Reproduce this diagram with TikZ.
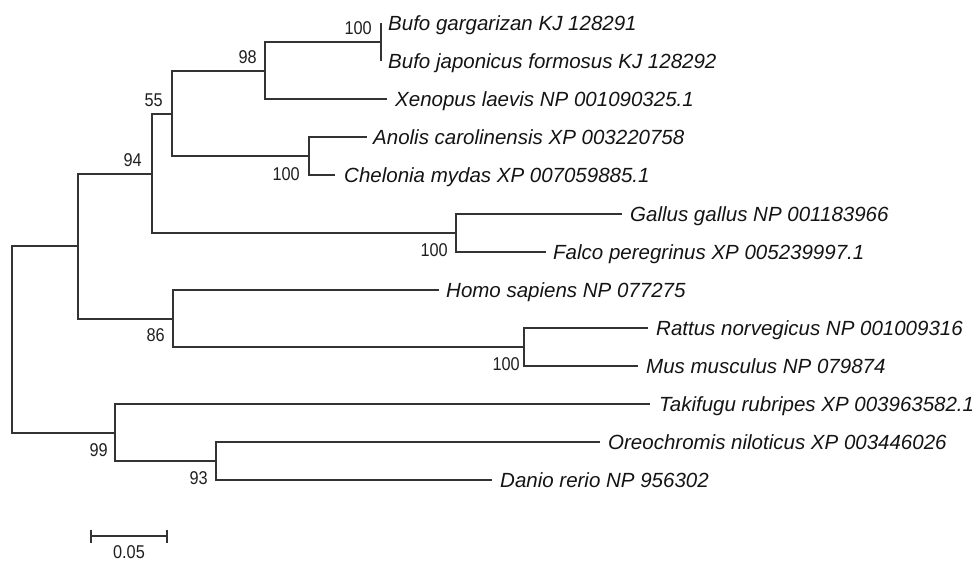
\documentclass[tikz,border=0pt]{standalone}
\usepackage{fontspec}
\setmainfont{Liberation Sans}
\begin{document}
\begin{tikzpicture}[x=1pt,y=-1pt,
  branch/.style={line width=2pt, draw=black!80},
  taxon/.style={anchor=west, inner sep=0pt, text=black!92,
    font=\fontsize{20.5}{22}\selectfont\itshape, text height=14.7pt, text depth=0pt},
  boot/.style={anchor=east, inner sep=0pt, text=black!88,
    font=\fontsize{18.5}{20}\selectfont, text height=13.2pt, text depth=0pt}]
\useasboundingbox (0,0) rectangle (976,561);

% leaf tips
\coordinate (bgar) at (381,23);
\coordinate (bjap) at (381,61);
\coordinate (xen)  at (387,99);
\coordinate (ano)  at (367,137);
\coordinate (che)  at (335,175);
\coordinate (gal)  at (622,214);
\coordinate (fal)  at (546,252);
\coordinate (hom)  at (439,290);
\coordinate (rat)  at (648,328);
\coordinate (mus)  at (638,366);
\coordinate (tak)  at (650,404);
\coordinate (ore)  at (600,442);
\coordinate (dan)  at (492,480);

% internal nodes
\coordinate (nbufo) at (381,42);
\coordinate (n98)   at (265,71);
\coordinate (nac)   at (309,156);
\coordinate (n55)   at (172,114);
\coordinate (ngf)   at (456,233);
\coordinate (n94)   at (152,174);
\coordinate (nrm)   at (524,347);
\coordinate (n86)   at (173,319);
\coordinate (na)    at (78,246);
\coordinate (n93)   at (216,461);
\coordinate (n99)   at (115,433);
\coordinate (root)  at (12,340);

% branches
\draw[branch] (nbufo) |- (bgar);
\draw[branch] (nbufo) |- (bjap);
\draw[branch] (n98) |- (nbufo);
\draw[branch] (n98) |- (xen);
\draw[branch] (nac) |- (ano);
\draw[branch] (nac) |- (che);
\draw[branch] (n55) |- (n98);
\draw[branch] (n55) |- (nac);
\draw[branch] (ngf) |- (gal);
\draw[branch] (ngf) |- (fal);
\draw[branch] (n94) |- (n55);
\draw[branch] (n94) |- (ngf);
\draw[branch] (nrm) |- (rat);
\draw[branch] (nrm) |- (mus);
\draw[branch] (n86) |- (hom);
\draw[branch] (n86) |- (nrm);
\draw[branch] (na) |- (n94);
\draw[branch] (na) |- (n86);
\draw[branch] (n93) |- (ore);
\draw[branch] (n93) |- (dan);
\draw[branch] (n99) |- (tak);
\draw[branch] (n99) |- (n93);
\draw[branch] (root) |- (na);
\draw[branch] (root) |- (n99);

% taxon names
\node[taxon] (t-bgar) at ([xshift=7pt]bgar) {Bufo gargarizan KJ 128291};
\node[taxon] (t-bjap) at ([xshift=7pt]bjap) {Bufo japonicus formosus KJ 128292};
\node[taxon] (t-xen)  at ([xshift=8pt]xen)  {Xenopus laevis NP 001090325.1};
\node[taxon] (t-ano)  at ([xshift=6pt]ano)  {Anolis carolinensis XP 003220758};
\node[taxon] (t-che)  at ([xshift=9pt]che)  {Chelonia mydas XP 007059885.1};
\node[taxon] (t-gal)  at ([xshift=8pt]gal)  {Gallus gallus NP 001183966};
\node[taxon] (t-fal)  at ([xshift=7pt]fal)  {Falco peregrinus XP 005239997.1};
\node[taxon] (t-hom)  at ([xshift=7pt]hom)  {Homo sapiens NP 077275};
\node[taxon] (t-rat)  at ([xshift=8pt]rat)  {Rattus norvegicus NP 001009316};
\node[taxon] (t-mus)  at ([xshift=8pt]mus)  {Mus musculus NP 079874};
\node[taxon] (t-tak)  at ([xshift=9pt]tak)  {Takifugu rubripes XP 003963582.1};
\node[taxon] (t-ore)  at ([xshift=8pt]ore)  {Oreochromis niloticus XP 003446026};
\node[taxon] (t-dan)  at ([xshift=8pt]dan)  {Danio rerio NP 956302};

% bootstrap values
\node[boot] (b-bufo) at (372,28)  {\scalebox{0.88}[1]{100}};
\node[boot] (b-98)   at (257,57)  {\scalebox{0.88}[1]{98}};
\node[boot] (b-55)   at (163,100) {\scalebox{0.88}[1]{55}};
\node[boot] (b-94)   at (142,160) {\scalebox{0.88}[1]{94}};
\node[boot] (b-ac)   at (300,174) {\scalebox{0.88}[1]{100}};
\node[boot] (b-gf)   at (448,250) {\scalebox{0.88}[1]{100}};
\node[boot] (b-86)   at (165,335) {\scalebox{0.88}[1]{86}};
\node[boot] (b-rm)   at (520,364) {\scalebox{0.88}[1]{100}};
\node[boot] (b-99)   at (108,450) {\scalebox{0.88}[1]{99}};
\node[boot] (b-93)   at (208,478) {\scalebox{0.88}[1]{93}};

% scale bar
\coordinate (sbl) at (91,536);
\coordinate (sbr) at (167,536);
\draw[branch] (sbl) -- (sbr);
\draw[branch] ([yshift=6.5pt]sbl) -- ([yshift=-6.5pt]sbl);
\draw[branch] ([yshift=6.5pt]sbr) -- ([yshift=-6.5pt]sbr);
\node[boot, anchor=center] (sblabel) at (129,551.5) {\scalebox{0.88}[1]{0.05}};
\end{tikzpicture}
\end{document}
